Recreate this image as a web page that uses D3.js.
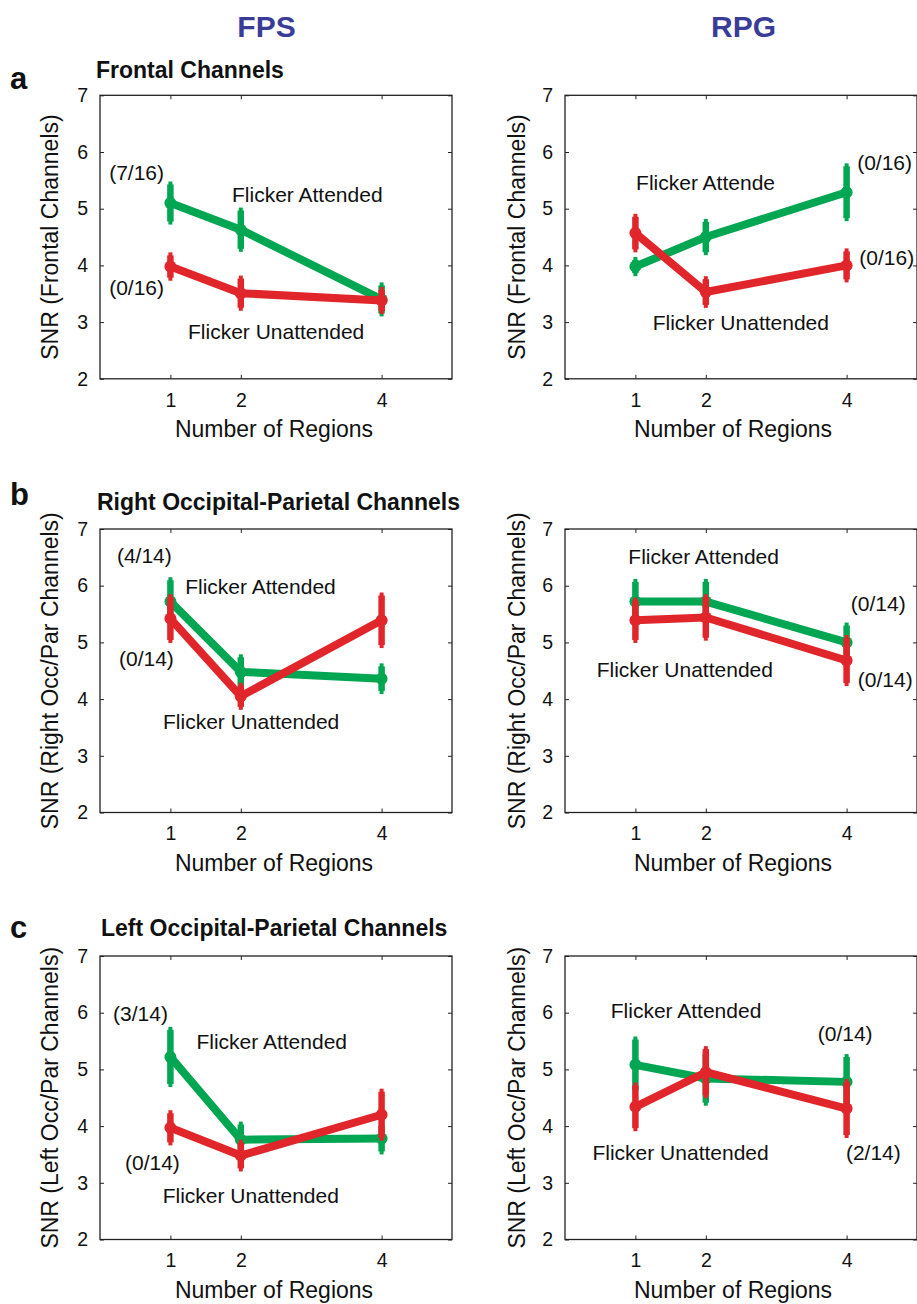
<!DOCTYPE html>
<html><head><meta charset="utf-8">
<script src="https://cdn.jsdelivr.net/npm/d3@7"></script>
<style>
html,body{margin:0;padding:0;background:#fff;}
svg{display:block;font-family:"Liberation Sans",Arial,Helvetica,sans-serif;}
</style></head>
<body>
<svg id="chart" width="917" height="1304"></svg>
<script>
// ---- data ----
const regions = [1, 2, 4];
const xTickValues = [1, 2, 4];
const yTickValues = [2, 3, 4, 5, 6, 7];
const columnTitles = ["FPS", "RPG"];
const rowLetters = ["a", "b", "c"];
const rowTitles = ["Frontal Channels", "Right Occipital-Parietal Channels", "Left Occipital-Parietal Channels"];
const yLabels = ["SNR (Frontal Channels)", "SNR (Right Occ/Par Channels)", "SNR (Left Occ/Par Channels)"];
const xLabel = "Number of Regions";

// FPS frontal
const fpsFrontalAtt = [5.10, 4.63, 3.40];
const fpsFrontalAttErr = [0.38, 0.39, 0.30];
const fpsFrontalUnatt = [3.98, 3.51, 3.38];
const fpsFrontalUnattErr = [0.25, 0.31, 0.24];
// RPG frontal
const rpgFrontalAtt = [3.98, 4.50, 5.29];
const rpgFrontalAttErr = [0.17, 0.32, 0.51];
const rpgFrontalUnatt = [4.57, 3.53, 4.00];
const rpgFrontalUnattErr = [0.34, 0.28, 0.30];
// FPS right occ/par
const fpsRightAtt = [5.72, 4.48, 4.36];
const fpsRightAttErr = [0.43, 0.31, 0.27];
const fpsRightUnatt = [5.42, 4.05, 5.39];
const fpsRightUnattErr = [0.43, 0.24, 0.49];
// RPG right occ/par
const rpgRightAtt = [5.72, 5.72, 5.00];
const rpgRightAttErr = [0.40, 0.40, 0.35];
const rpgRightUnatt = [5.39, 5.44, 4.68];
const rpgRightUnattErr = [0.40, 0.41, 0.45];
// FPS left occ/par
const fpsLeftAtt = [5.22, 3.76, 3.78];
const fpsLeftAttErr = [0.53, 0.32, 0.28];
const fpsLeftUnatt = [3.97, 3.48, 4.20];
const fpsLeftUnattErr = [0.31, 0.28, 0.46];
// RPG left occ/par
const rpgLeftAtt = [5.08, 4.84, 4.78];
const rpgLeftAttErr = [0.50, 0.48, 0.49];
const rpgLeftUnatt = [4.34, 4.95, 4.31];
const rpgLeftUnattErr = [0.43, 0.46, 0.52];

// annotation texts per panel
const annFpsFrontal = ["(7/16)", "(0/16)", "Flicker Attended", "Flicker Unattended"];
const annRpgFrontal = ["Flicker Attende", "Flicker Unattended", "(0/16)", "(0/16)"];
const annFpsRight = ["(4/14)", "Flicker Attended", "(0/14)", "Flicker Unattended"];
const annRpgRight = ["Flicker Attended", "Flicker Unattended", "(0/14)", "(0/14)"];
const annFpsLeft = ["(3/14)", "Flicker Attended", "(0/14)", "Flicker Unattended"];
const annRpgLeft = ["Flicker Attended", "Flicker Unattended", "(0/14)", "(2/14)"];

// ---- layout (positions / styles) ----
const GREEN = "#00a651", RED = "#e1262b", TITLE_BLUE = "#3a3d98";
const colLeft = [100, 565];
const xLabelOffset = [174, 168];
const yLabelOffset = [-50, -48];
const rowTop = [95.3, 529, 956];
const plotW = 352, plotH = 283.5;
// annotation anchor positions in data units (start x, centre y)
const annPos = {
  fpsFrontal: [[0.13, 5.63], [0.13, 3.61], [1.875, 5.25], [1.25, 2.83]],
  rpgFrontal: [[1.01, 5.46], [1.246, 2.99], [4.15, 5.81], [4.18, 4.14]],
  fpsRight: [[0.24, 6.54], [1.21, 5.98], [0.27, 4.72], [0.895, 3.60]],
  rpgRight: [[0.90, 6.52], [0.45, 4.53], [4.06, 5.69], [4.16, 4.35]],
  fpsLeft: [[0.185, 5.99], [1.37, 5.50], [0.355, 3.35], [0.89, 2.78]],
  rpgLeft: [[0.65, 6.03], [0.39, 3.53], [3.59, 5.64], [3.99, 3.53]]
};

const panels = [
  {row:0, col:0, att:fpsFrontalAtt, attErr:fpsFrontalAttErr, un:fpsFrontalUnatt, unErr:fpsFrontalUnattErr, ann:annFpsFrontal, pos:annPos.fpsFrontal},
  {row:0, col:1, att:rpgFrontalAtt, attErr:rpgFrontalAttErr, un:rpgFrontalUnatt, unErr:rpgFrontalUnattErr, ann:annRpgFrontal, pos:annPos.rpgFrontal},
  {row:1, col:0, att:fpsRightAtt, attErr:fpsRightAttErr, un:fpsRightUnatt, unErr:fpsRightUnattErr, ann:annFpsRight, pos:annPos.fpsRight},
  {row:1, col:1, att:rpgRightAtt, attErr:rpgRightAttErr, un:rpgRightUnatt, unErr:rpgRightUnattErr, ann:annRpgRight, pos:annPos.rpgRight},
  {row:2, col:0, att:fpsLeftAtt, attErr:fpsLeftAttErr, un:fpsLeftUnatt, unErr:fpsLeftUnattErr, ann:annFpsLeft, pos:annPos.fpsLeft},
  {row:2, col:1, att:rpgLeftAtt, attErr:rpgLeftAttErr, un:rpgLeftUnatt, unErr:rpgLeftUnattErr, ann:annRpgLeft, pos:annPos.rpgLeft}
];

const svg = d3.select("#chart");

// column titles
const titleX = [266.5, 743.5];
columnTitles.forEach((t, i) => {
  svg.append("text").attr("x", titleX[i]).attr("y", 37)
    .attr("text-anchor", "middle").attr("font-size", 30).attr("font-weight", "bold")
    .attr("fill", TITLE_BLUE).text(t);
});
// row letters and titles
const letterY = [89, 505, 938];
const rowTitleX = [96, 97, 101];
const rowTitleY = [78, 510, 936];
rowLetters.forEach((l, i) => {
  svg.append("text").attr("x", 10).attr("y", letterY[i])
    .attr("font-size", 31).attr("font-weight", "bold").attr("fill", "#111").text(l);
  svg.append("text").attr("x", rowTitleX[i]).attr("y", rowTitleY[i])
    .attr("font-size", 23).attr("font-weight", "bold").attr("fill", "#111").text(rowTitles[i]);
});

panels.forEach(p => {
  const left = colLeft[p.col], top = rowTop[p.row];
  const g = svg.append("g").attr("transform", `translate(${left},${top})`);
  const x = d3.scaleLinear().domain([0, 5]).range([0, plotW]);
  const y = d3.scaleLinear().domain([2, 7]).range([plotH, 0]);

  // frame
  g.append("rect").attr("x", 0).attr("y", 0).attr("width", plotW).attr("height", plotH)
    .attr("fill", "none").attr("stroke", "#222").attr("stroke-width", 1.3);

  const tickStyle = sel => {
    sel.select(".domain").remove();
    sel.selectAll(".tick line").attr("stroke", "#222").attr("stroke-width", 1);
    sel.selectAll(".tick text").attr("fill", "#111").attr("font-size", 19.5)
      .attr("font-family", '"Liberation Sans",Arial,Helvetica,sans-serif');
  };
  // bottom axis (inward ticks)
  g.append("g").attr("transform", `translate(0,${plotH})`)
    .call(d3.axisBottom(x).tickValues(xTickValues).tickSize(-4).tickPadding(14).tickFormat(d3.format("d")))
    .call(tickStyle);
  // top ticks
  g.append("g").call(d3.axisTop(x).tickValues(xTickValues).tickSize(-4).tickFormat(""))
    .call(tickStyle);
  // left axis
  g.append("g").call(d3.axisLeft(y).tickValues(yTickValues).tickSize(-4).tickPadding(12).tickFormat(d3.format("d")))
    .call(tickStyle);
  // right ticks
  g.append("g").attr("transform", `translate(${plotW},0)`)
    .call(d3.axisRight(y).tickValues(yTickValues).tickSize(-4).tickFormat(""))
    .call(tickStyle);

  // axis labels
  g.append("text").attr("x", xLabelOffset[p.col]).attr("y", plotH + 58)
    .attr("text-anchor", "middle").attr("font-size", 23).attr("fill", "#111").text(xLabel);
  g.append("text").attr("transform", `translate(${yLabelOffset[p.col]},${plotH / 2}) rotate(-90)`)
    .attr("text-anchor", "middle").attr("dominant-baseline", "central")
    .attr("font-size", 23).attr("fill", "#111").text(yLabels[p.row]);

  const series = [
    {vals: p.att, err: p.attErr, color: GREEN},
    {vals: p.un, err: p.unErr, color: RED}
  ];
  const line = d3.line().x((d, i) => x(regions[i])).y(d => y(d));
  series.forEach(s => {
    g.append("path").datum(s.vals).attr("d", line)
      .attr("fill", "none").attr("stroke", s.color).attr("stroke-width", 8)
      .attr("stroke-linejoin", "round");
    const eb = g.append("g");
    s.vals.forEach((v, i) => {
      const cx = x(regions[i]);
      const y1 = y(v + s.err[i]), y2 = y(v - s.err[i]);
      eb.append("line").attr("x1", cx).attr("x2", cx).attr("y1", y1).attr("y2", y2)
        .attr("stroke", s.color).attr("stroke-width", 4);
      eb.append("line").attr("x1", cx).attr("x2", cx).attr("y1", y1 + 3).attr("y2", y2 - 3)
        .attr("stroke", s.color).attr("stroke-width", 6.5);
    });
    g.append("g").selectAll("circle").data(s.vals).join("circle")
      .attr("cx", (d, i) => x(regions[i])).attr("cy", d => y(d)).attr("r", 6)
      .attr("fill", s.color);
  });

  // annotations
  p.ann.forEach((t, i) => {
    g.append("text").attr("x", x(p.pos[i][0])).attr("y", y(p.pos[i][1]))
      .attr("dominant-baseline", "central").attr("font-size", 21).attr("fill", "#111").text(t);
  });
});
</script>
</body></html>
